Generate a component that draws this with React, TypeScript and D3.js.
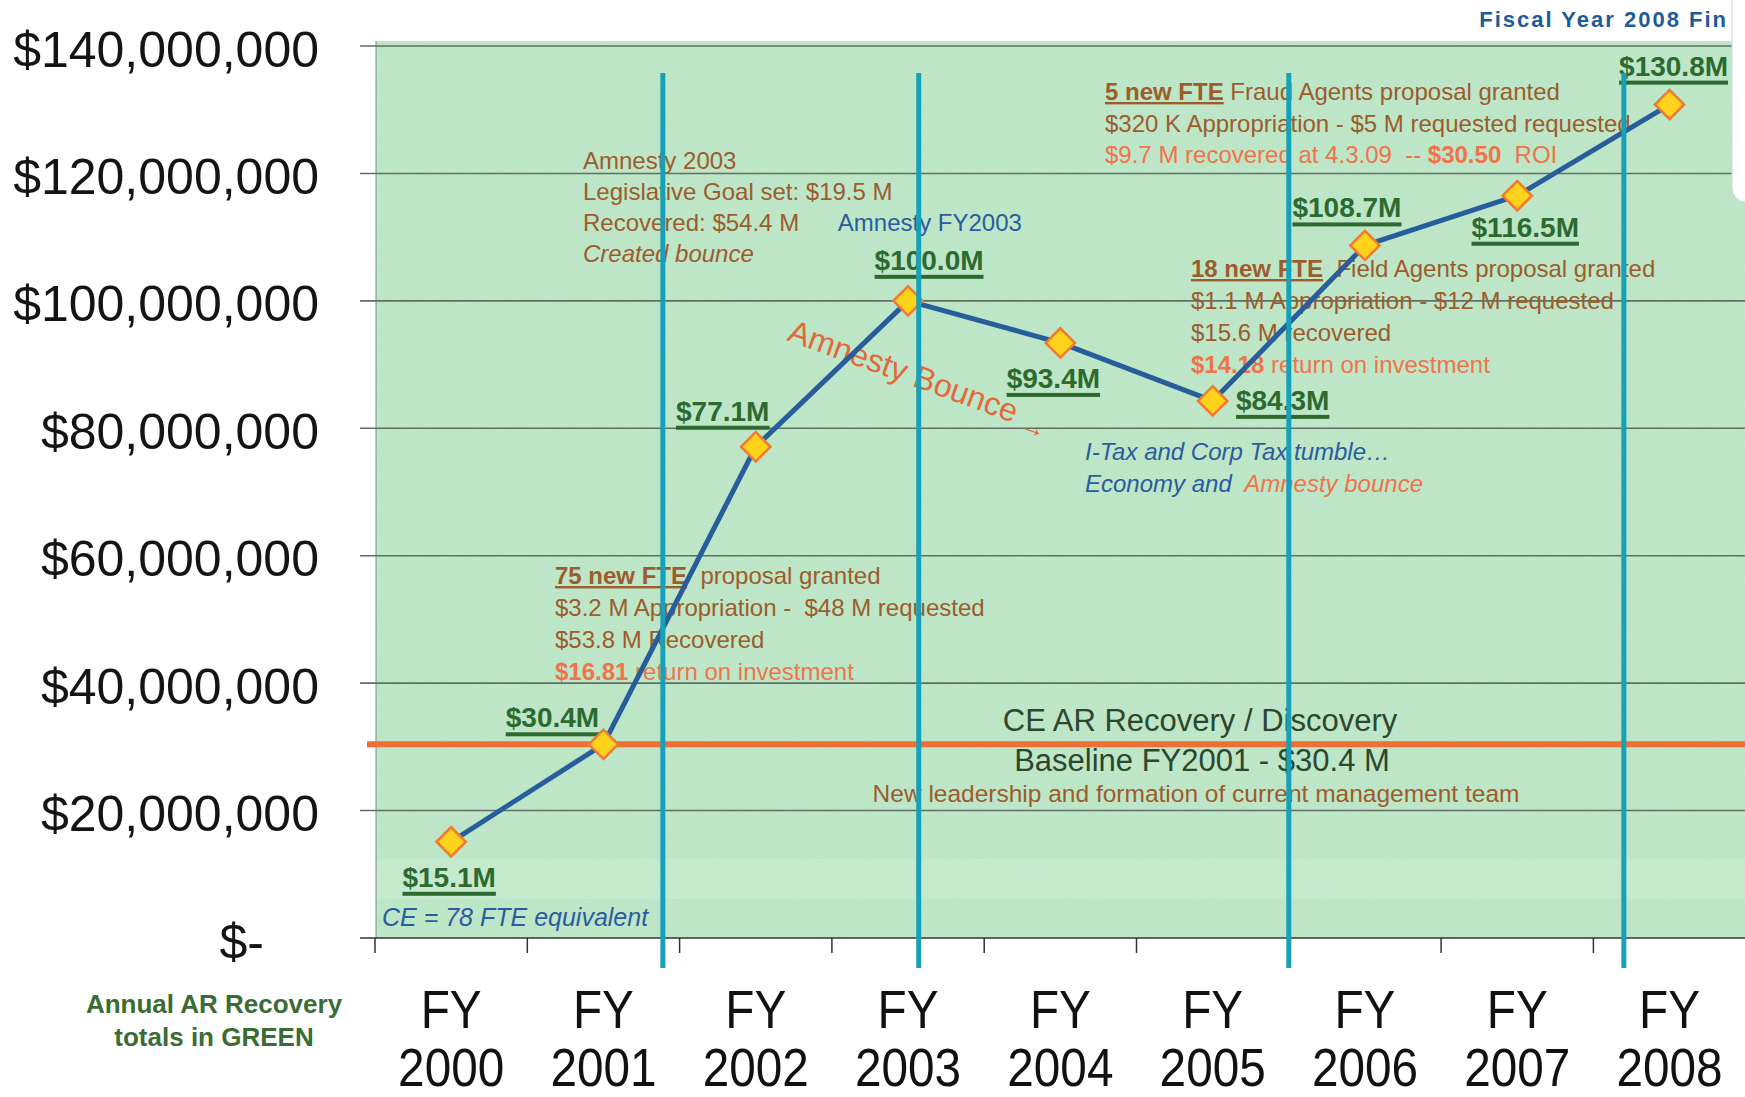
import React, { useEffect, useRef } from 'react';
import * as d3 from 'd3';

// values in $ millions
const years = ['2000', '2001', '2002', '2003', '2004', '2005', '2006', '2007', '2008'];
const recovery = [15.1, 30.4, 77.1, 100.0, 93.4, 84.3, 108.7, 116.5, 130.8];
const yTicks = [0, 20, 40, 60, 80, 100, 120, 140];
const baselineValue = 30.4;
// teal divider lines, as fractional year index
const dividers = [1.39, 3.07, 5.5, 7.7];

// label offsets from each point (px)
const labelOffsets = [
  [-2, 45], [-51, -17], [-33, -26], [21, -31], [-7, 45], [70, 9], [-18, -28], [8, 41], [4, -29],
];

const W = 1745;
const H = 1097;
const FONT = '"Liberation Sans", Arial, Helvetica, sans-serif';
const BROWN = '#9c5c2c';
const ORANGE = '#f0744a';
const BLUE = '#2a5c9e';
const GREEN = '#2c6a2f';
const TEAL = '#17a0b9';
const LINE = '#285d9c';

type Part = { t: string; c: string; b?: boolean; i?: boolean; u?: boolean };

const fte2002: Part[][] = [
  [{ t: '75 new FTE', c: BROWN, b: true, u: true }, { t: '  proposal granted', c: BROWN }],
  [{ t: '$3.2 M Appropriation -  $48 M requested', c: BROWN }],
  [{ t: '$53.8 M Recovered', c: BROWN }],
  [{ t: '$16.81', c: ORANGE, b: true }, { t: ' return on investment', c: ORANGE }],
];
const amnesty: Part[][] = [
  [{ t: 'Amnesty 2003', c: BROWN }],
  [{ t: 'Legislative Goal set: $19.5 M', c: BROWN }],
  [{ t: 'Recovered: $54.4 M', c: BROWN }, { t: '      Amnesty FY2003', c: BLUE }],
  [{ t: 'Created bounce', c: BROWN, i: true }],
];
const fte2006: Part[][] = [
  [{ t: '18 new FTE', c: BROWN, b: true, u: true }, { t: '  Field Agents proposal granted', c: BROWN }],
  [{ t: '$1.1 M Appropriation - $12 M requested', c: BROWN }],
  [{ t: '$15.6 M recovered', c: BROWN }],
  [{ t: '$14.18', c: ORANGE, b: true }, { t: ' return on investment', c: ORANGE }],
];
const fte2008: Part[][] = [
  [{ t: '5 new FTE', c: BROWN, b: true, u: true }, { t: ' Fraud Agents proposal granted', c: BROWN }],
  [{ t: '$320 K Appropriation - $5 M requested requested', c: BROWN }],
  [{ t: '$9.7 M recovered at 4.3.09  -- ', c: ORANGE }, { t: '$30.50', c: ORANGE, b: true }, { t: '  ROI', c: ORANGE }],
];
const tumble: Part[][] = [
  [{ t: 'I-Tax and Corp Tax tumble…', c: BLUE, i: true }],
  [{ t: 'Economy and  ', c: BLUE, i: true }, { t: 'Amnesty bounce', c: ORANGE, i: true }],
];

function block(g: any, x0: number, y0: number, step: number, size: number, lines: Part[][]) {
  lines.forEach((parts, li) => {
    const text = g.append('text')
      .attr('x', x0)
      .attr('y', y0 + li * step)
      .style('font-family', FONT)
      .style('font-size', size + 'px')
      .style('white-space', 'pre');
    parts.forEach(p => {
      text.append('tspan')
        .text(p.t)
        .attr('fill', p.c)
        .style('font-weight', p.b ? 'bold' : 'normal')
        .style('font-style', p.i ? 'italic' : 'normal')
        .style('text-decoration', p.u ? 'underline' : 'none');
    });
  });
}

const drawChart = (el: SVGSVGElement) => {
  const svg = d3.select(el);
  svg.selectAll('*').remove();

  const x = d3.scaleBand<string>().domain(years).range([375, 375 + 9 * 152.3]);
  const y = d3.scaleLinear().domain([0, 140]).range([938, 46]);
  const cx = (i: number) => (x(years[0]) as number) + x.bandwidth() / 2 + i * x.step();

  const defs = svg.append('defs');
  const f = defs.append('filter').attr('id', 'grain').attr('x', 0).attr('y', 0).attr('width', 1).attr('height', 1);
  f.append('feTurbulence').attr('type', 'fractalNoise').attr('baseFrequency', 0.9).attr('numOctaves', 2).attr('seed', 3);
  f.append('feColorMatrix').attr('values', '0 0 0 0 1  0 0 0 0 1  0 0 0 0 1  0 0 0 0.9 -0.35');

  svg.append('rect').attr('width', W).attr('height', H).attr('fill', '#fff');

  // plot background
  svg.append('rect')
    .attr('x', 376).attr('y', 41).attr('width', W - 376).attr('height', y(0) - 41)
    .attr('fill', '#bbe5c5');
  svg.append('rect')
    .attr('x', 376).attr('y', 41).attr('width', W - 376).attr('height', y(0) - 41)
    .attr('filter', 'url(#grain)').attr('opacity', 0.35);
  svg.append('rect')
    .attr('x', 376).attr('y', 859).attr('width', W - 376).attr('height', 40)
    .attr('fill', '#d3f0d9').attr('opacity', 0.35);
  svg.append('line')
    .attr('x1', 376).attr('x2', 376).attr('y1', 41).attr('y2', y(0))
    .attr('stroke', '#7d8d80').attr('stroke-width', 1);

  // gridlines
  svg.append('g')
    .selectAll('line')
    .data(yTicks)
    .join('line')
    .attr('x1', 360).attr('x2', W)
    .attr('y1', d => y(d)).attr('y2', d => y(d))
    .attr('stroke', d => (d === 0 ? '#333' : '#5f6f63'))
    .attr('stroke-width', 1.6);

  // y labels
  svg.append('g')
    .selectAll('text')
    .data(yTicks)
    .join('text')
    .attr('x', d => (d === 0 ? 264 : 319))
    .attr('y', d => y(d) + 3)
    .attr('dy', '0.35em')
    .attr('text-anchor', 'end')
    .attr('fill', '#141414')
    .style('font', `50px ${FONT}`)
    .text(d => (d === 0 ? '$-' : d3.format('$,')(d * 1e6)));

  // x ticks
  svg.append('g')
    .selectAll('line')
    .data(years)
    .join('line')
    .attr('x1', d => x(d) as number).attr('x2', d => x(d) as number)
    .attr('y1', y(0)).attr('y2', y(0) + 15)
    .attr('stroke', '#333').attr('stroke-width', 1.5);

  // x labels
  const xl = svg.append('g')
    .selectAll('g')
    .data(years)
    .join('g')
    .attr('transform', (d, i) => `translate(${cx(i)},0) scale(0.9,1)`)
    .style('font', `53px ${FONT}`)
    .attr('fill', '#111')
    .attr('text-anchor', 'middle');
  xl.append('text').attr('y', 1028).text('FY');
  xl.append('text').attr('y', 1086).text(d => d);

  svg.append('text')
    .attr('x', 214).attr('y', 1013)
    .attr('text-anchor', 'middle').attr('fill', '#3b6c34')
    .style('font', `bold 26px ${FONT}`)
    .text('Annual AR Recovery');
  svg.append('text')
    .attr('x', 214).attr('y', 1046)
    .attr('text-anchor', 'middle').attr('fill', '#3b6c34')
    .style('font', `bold 26px ${FONT}`)
    .text('totals in GREEN');

  // baseline
  svg.append('line')
    .attr('x1', 367).attr('x2', W)
    .attr('y1', y(baselineValue)).attr('y2', y(baselineValue))
    .attr('stroke', '#ee6f36').attr('stroke-width', 6);

  const ann = svg.append('g');
  block(ann, 555, 584, 32, 24, fte2002);
  block(ann, 583, 169, 31, 24, amnesty);
  block(ann, 1191, 277, 32, 24, fte2006);
  block(ann, 1105, 100, 31.5, 24, fte2008);
  block(ann, 1085, 460, 32, 24, tumble);
  block(ann, 382, 926, 0, 25, [[{ t: 'CE = 78 FTE equivalent', c: BLUE, i: true }]]);

  ann.append('text')
    .attr('x', 1200).attr('y', 731).attr('text-anchor', 'middle')
    .attr('fill', '#2d472f').style('font', `31px ${FONT}`)
    .text('CE AR Recovery / Discovery');
  ann.append('text')
    .attr('x', 1202).attr('y', 771).attr('text-anchor', 'middle')
    .attr('fill', '#2d472f').style('font', `31px ${FONT}`)
    .text('Baseline FY2001 - $30.4 M');
  ann.append('text')
    .attr('x', 1196).attr('y', 802).attr('text-anchor', 'middle')
    .attr('fill', BROWN).style('font', `24.5px ${FONT}`)
    .text('New leadership and formation of current management team');

  const bounce = ann.append('text')
    .attr('transform', 'translate(786,340) rotate(20)')
    .attr('fill', '#e2693a')
    .style('font', `32px ${FONT}`);
  bounce.append('tspan').text('Amnesty Bounce');
  bounce.append('tspan').attr('dy', 6).style('font-size', '26px').text(' →');

  // value labels
  const lab = svg.append('g');
  recovery.forEach((v, i) => {
    const [dx, dy] = labelOffsets[i];
    const t = lab.append('text')
      .attr('x', cx(i) + dx).attr('y', y(v) + dy)
      .attr('text-anchor', 'middle')
      .attr('fill', GREEN)
      .style('font', `bold 28px ${FONT}`)
      .text(`$${v.toFixed(1)}M`);
    const w = (t.node() as SVGTextElement).getComputedTextLength();
    lab.append('rect')
      .attr('x', cx(i) + dx - w / 2).attr('y', y(v) + dy + 5)
      .attr('width', w).attr('height', 4)
      .attr('fill', GREEN);
  });

  // recovery line
  const line = d3.line<number>().x((d, i) => cx(i)).y(d => y(d));
  svg.append('path')
    .datum(recovery)
    .attr('d', line)
    .attr('fill', 'none')
    .attr('stroke', LINE)
    .attr('stroke-width', 5)
    .attr('stroke-linejoin', 'round');

  svg.append('g')
    .selectAll('path')
    .data(recovery)
    .join('path')
    .attr('d', d3.symbol().type(d3.symbolSquare).size(430)())
    .attr('transform', (d, i) => `translate(${cx(i)},${y(d)}) rotate(45)`)
    .attr('fill', '#ffd21c')
    .attr('stroke', '#f27a30')
    .attr('stroke-width', 2.5);

  // teal dividers
  svg.append('g')
    .selectAll('line')
    .data(dividers)
    .join('line')
    .attr('x1', d => cx(d)).attr('x2', d => cx(d))
    .attr('y1', 73).attr('y2', 968)
    .attr('stroke', TEAL).attr('stroke-width', 5);

  // top right
  svg.append('rect')
    .attr('x', 1732).attr('y', -20).attr('width', 40).attr('height', 222).attr('rx', 14)
    .attr('fill', '#fff').attr('stroke', '#d6d6d6');
  svg.append('text')
    .attr('x', 1728).attr('y', 27).attr('text-anchor', 'end')
    .attr('fill', '#1f5b98')
    .style('font', `bold 22px ${FONT}`)
    .style('letter-spacing', '2px')
    .text('Fiscal Year 2008 Fin');
};

export default function App() {
  const ref = useRef<SVGSVGElement>(null);
  useEffect(() => {
    if (ref.current) drawChart(ref.current);
  }, []);
  return (
    <svg
      ref={ref}
      width={W}
      height={H}
      style={{ position: 'absolute', left: 0, top: 0 }}
    />
  );
}
